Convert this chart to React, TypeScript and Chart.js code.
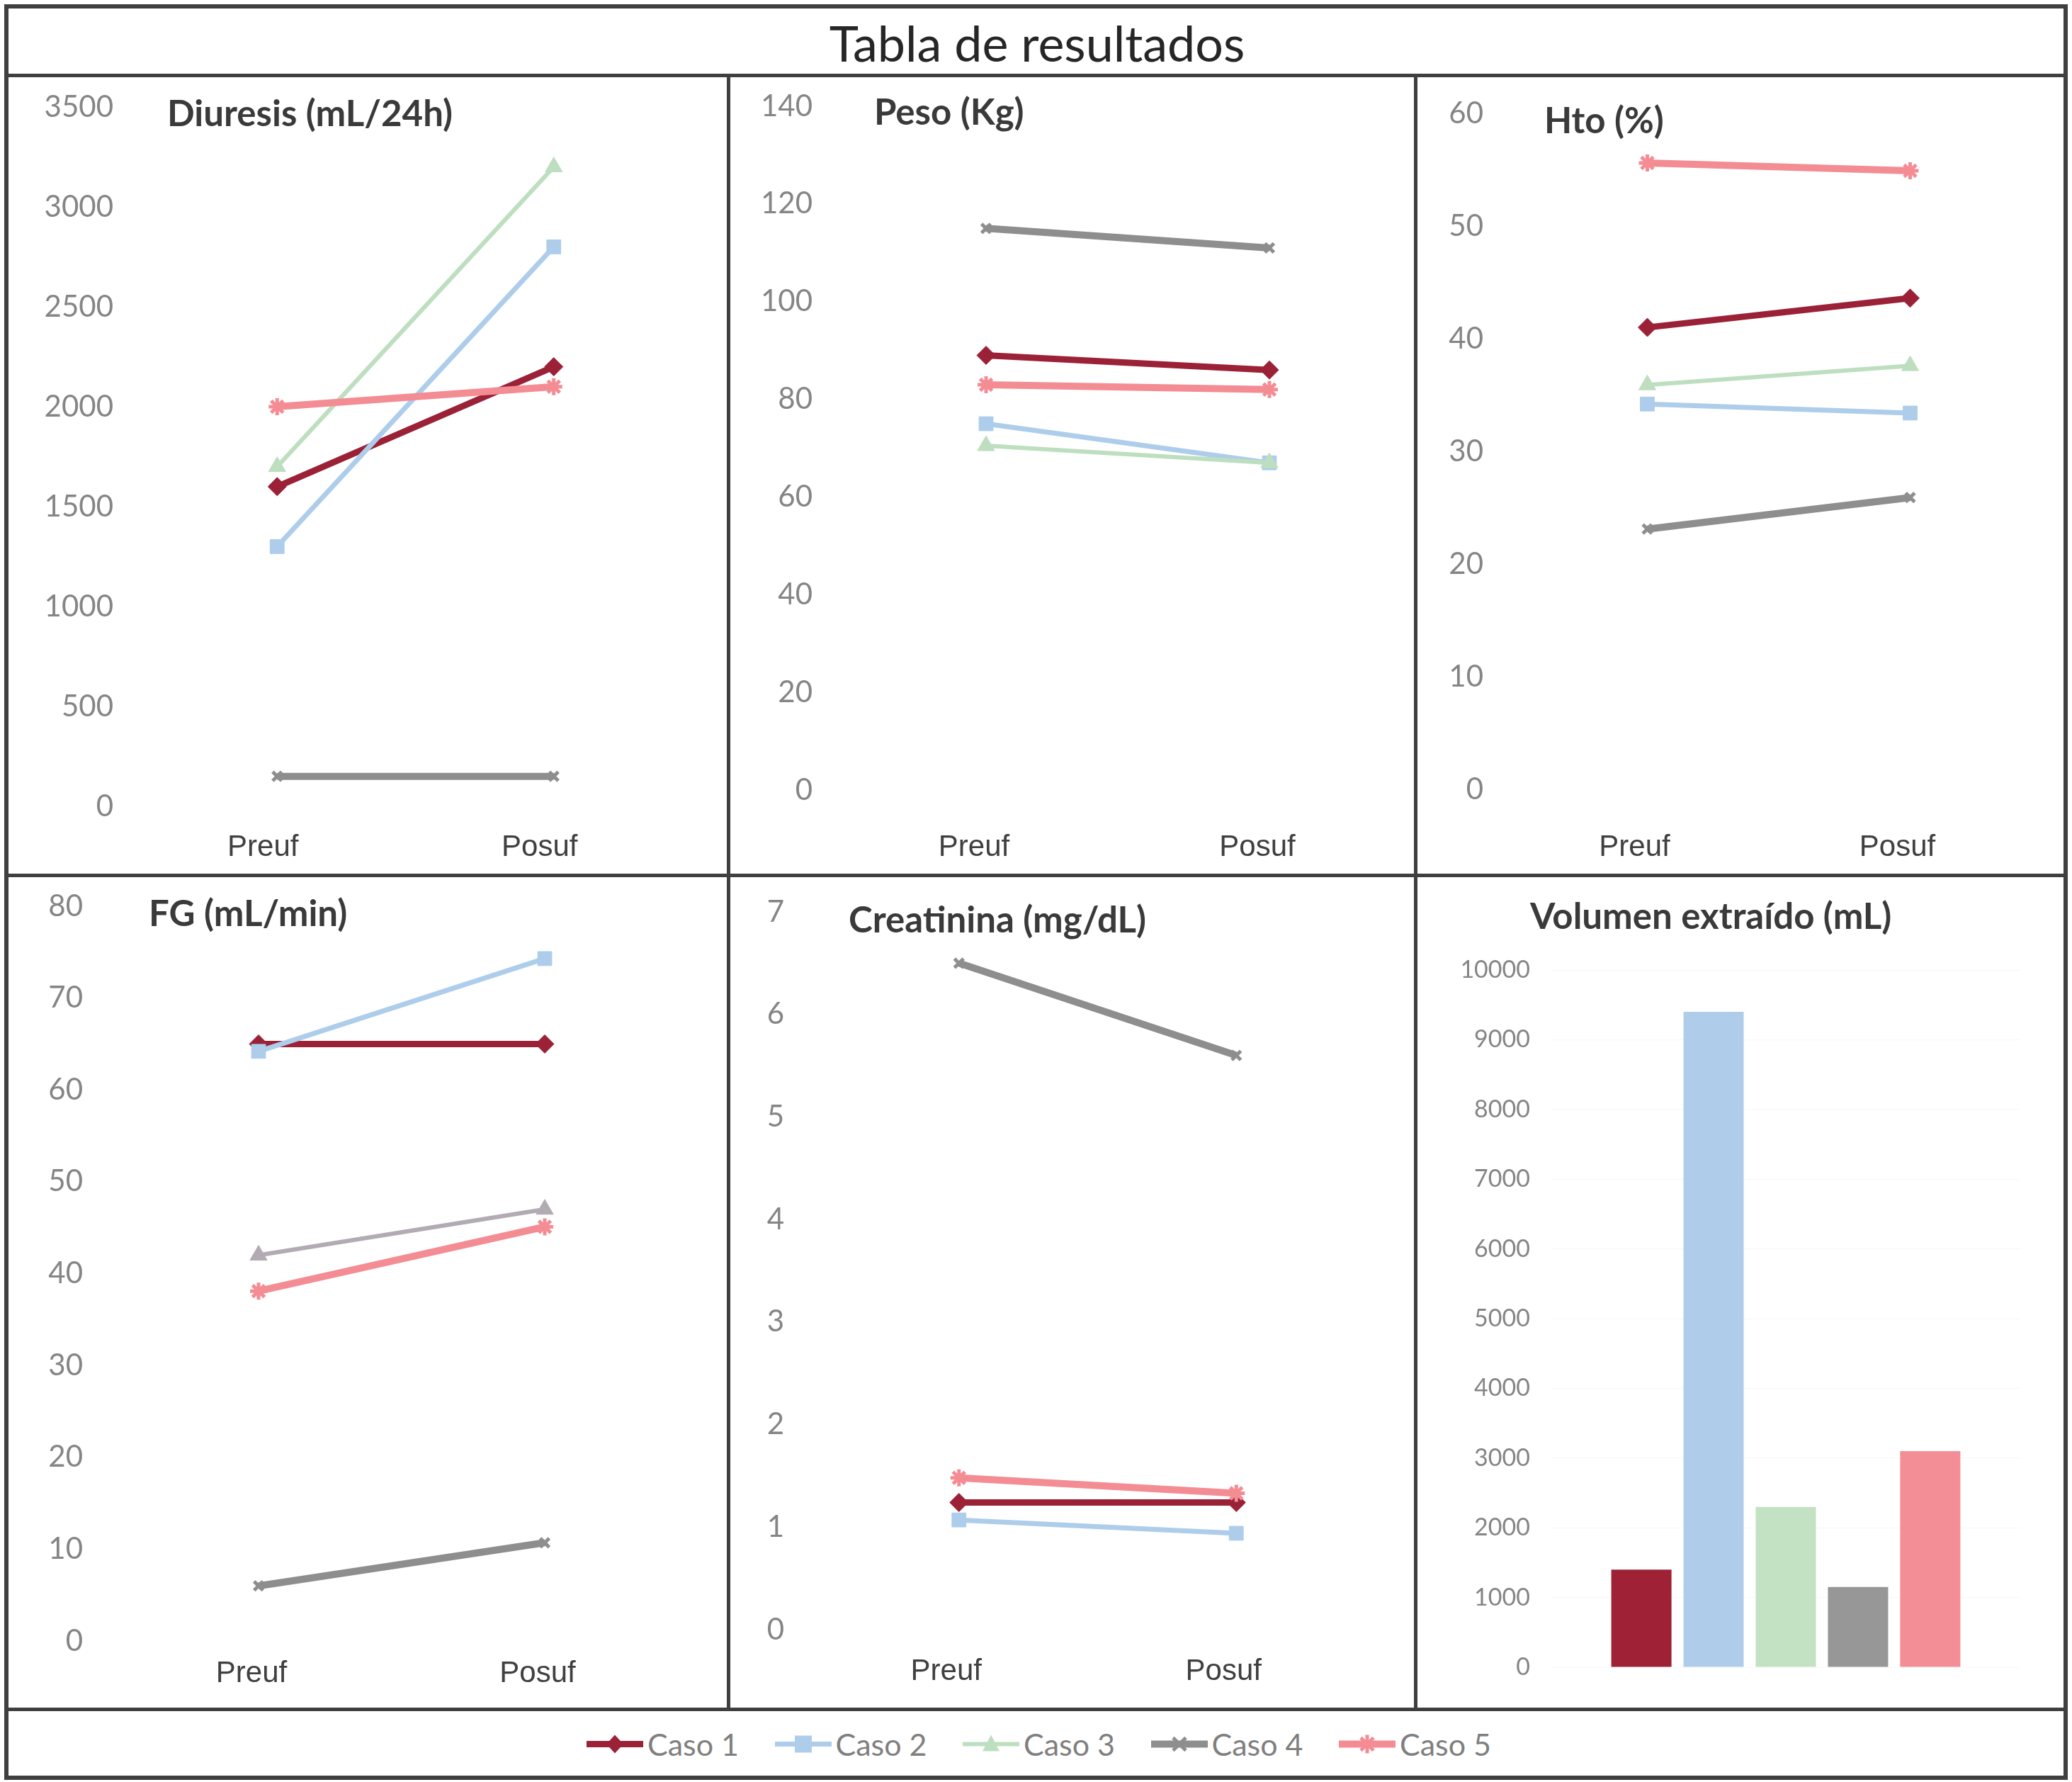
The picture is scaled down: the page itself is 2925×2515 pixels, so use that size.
import React, { useEffect, useRef } from 'react';
import { Chart, registerables } from 'chart.js';

Chart.register(...registerables);

// ---------------- data ----------------
const CATEGORIES = ['Preuf', 'Posuf'];
const CASES = ['Caso 1', 'Caso 2', 'Caso 3', 'Caso 4', 'Caso 5'];

// one [Preuf, Posuf] pair per case
const DIURESIS = [[1600, 2200], [1300, 2800], [1700, 3200], [150, 150], [2000, 2100]];
const PESO = [[89, 86], [75, 67], [70.5, 67], [115, 111], [83, 82]];
const HTO = [[41, 43.6], [34.2, 33.4], [35.9, 37.6], [23.1, 25.9], [55.6, 54.9]];
const FG = [[65, 65], [64.2, 74.3], [42, 47], [6, 10.7], [38.1, 45.1]];
const CREATININA = [[1.24, 1.24], [1.07, 0.94], [null, null], [6.5, 5.6], [1.48, 1.33]];
const VOLUMEN = [1400, 9400, 2300, 1150, 3100];

const DIURESIS_AXIS = [0, 3500, 500];
const PESO_AXIS = [0, 140, 20];
const HTO_AXIS = [0, 60, 10];
const FG_AXIS = [0, 80, 10];
const CREATININA_AXIS = [0, 7, 1];
const VOLUMEN_AXIS = [0, 10000, 1000];

// ---------------- styles ----------------
const LINE_COLORS = ['#9B2137', '#ADCDEB', '#BEDFBF', '#8E8E8E', '#F48C94'];
const BAR_COLORS = ['#9E2136', '#AFCDEB', '#C3E2C4', '#979797', '#F48E96'];
const LINE_WIDTHS = [9, 7, 6, 10, 10];
const POINT_STYLES = ['rectRot', 'rect', 'triangle', 'crossRot', 'star'];
const POINT_RADII = [13, 14, 14, 9, 12];

const TICK_COLOR = '#858585';
const LABEL_COLOR = '#404040';
const TITLE_COLOR = '#3A3A3A';
const BORDER_COLOR = '#3F3F3F';

type PanelCfg = {
  title: string;
  values: (number | null)[][];
  axis: number[];
  box: number[]; // x, y, w, h of canvas on page
  area: { left: number; top: number; right: number; bottom: number }; // chart area inside canvas
  yPad: number;
  xPad: number;
  labelOffset: number;
  titlePos: number[];
  colors?: string[];
};

const LINE_PANELS: PanelCfg[] = [
  {
    title: 'Diuresis (mL/24h)', values: DIURESIS, axis: DIURESIS_AXIS,
    box: [9, 106, 1019, 1129], area: { left: 187, top: 45, right: 968, bottom: 1032 },
    yPad: 36, xPad: 33, labelOffset: -20, titlePos: [236, 158],
  },
  {
    title: 'Peso (Kg)', values: PESO, axis: PESO_AXIS,
    box: [1028, 106, 970, 1129], area: { left: 164, top: 44, right: 964, bottom: 1009 },
    yPad: 45, xPad: 56, labelOffset: -17, titlePos: [1234, 156],
  },
  {
    title: 'Hto (%)', values: HTO, axis: HTO_AXIS,
    box: [1998, 106, 918, 1129], area: { left: 142, top: 54, right: 884, bottom: 1008 },
    yPad: 46, xPad: 57, labelOffset: -18, titlePos: [2180, 168],
  },
  {
    title: 'FG (mL/min)', values: FG, axis: FG_AXIS,
    box: [9, 1235, 1019, 1177], area: { left: 154, top: 44, right: 962, bottom: 1081 },
    yPad: 46, xPad: 21, labelOffset: -10, titlePos: [210, 1287],
    colors: ['#9B2137', '#ADCDEB', '#B3ABB3', '#8E8E8E', '#F48C94'],
  },
  {
    title: 'Creatinina (mg/dL)', values: CREATININA, axis: CREATININA_AXIS,
    box: [1028, 1235, 970, 1177], area: { left: 130, top: 52, right: 913, bottom: 1065 },
    yPad: 51, xPad: 34, labelOffset: -18, titlePos: [1198, 1296],
  },
];

const BAR_PANEL = {
  title: 'Volumen extraído (mL)',
  box: [1998, 1235, 918, 1177],
  area: { left: 192, top: 134, right: 854, bottom: 1118 },
  yPad: 30,
  titlePos: [2160, 1291],
};

// remove the extra padding Chart.js reserves for edge tick labels,
// so the plot area is exactly the one requested
function fixWidth(width: number) {
  return (s: any) => {
    s.width = width;
    s.paddingTop = 0;
    s.paddingBottom = 0;
  };
}
function fixHeight(height: number) {
  return (s: any) => {
    s.height = height;
    s.paddingLeft = 0;
    s.paddingRight = 0;
  };
}

function buildLine(p: PanelCfg): any {
  const [w, h] = [p.box[2], p.box[3]];
  const colors = p.colors ?? LINE_COLORS;
  return {
    type: 'line',
    data: {
      labels: CATEGORIES,
      datasets: p.values.map((vals, i) => ({
        label: CASES[i],
        data: vals,
        order: CASES.length - i,
        borderColor: colors[i],
        backgroundColor: colors[i],
        pointBackgroundColor: colors[i],
        pointBorderColor: colors[i],
        borderWidth: LINE_WIDTHS[i],
        pointBorderWidth: i >= 3 ? 5 : 1,
        pointStyle: POINT_STYLES[i],
        pointRadius: POINT_RADII[i],
        tension: 0,
        fill: false,
        clip: false,
      })),
    },
    options: {
      animation: false,
      responsive: false,
      devicePixelRatio: 1,
      layout: { autoPadding: false, padding: { left: 0, top: p.area.top, right: w - p.area.right, bottom: 0 } },
      plugins: { legend: { display: false }, tooltip: { enabled: false }, title: { display: false } },
      scales: {
        x: {
          type: 'category',
          offset: true,
          grid: { display: false, drawTicks: false },
          border: { display: false },
          ticks: {
            color: LABEL_COLOR,
            font: { family: '"Liberation Sans", Arial, sans-serif', size: 42 },
            padding: p.xPad,
            labelOffset: p.labelOffset,
            maxRotation: 0,
            autoSkip: false,
          },
          afterFit: fixHeight(h - p.area.bottom),
        },
        y: {
          min: p.axis[0],
          max: p.axis[1],
          grid: { display: false, drawTicks: false },
          border: { display: false },
          ticks: {
            stepSize: p.axis[2],
            color: TICK_COLOR,
            font: { family: 'Lato, sans-serif', size: 42 },
            padding: p.yPad,
            callback: (v: any) => String(v),
          },
          afterFit: fixWidth(p.area.left),
        },
      },
    },
  };
}

function buildBar(): any {
  const p = BAR_PANEL;
  const [w, h] = [p.box[2], p.box[3]];
  return {
    type: 'bar',
    data: {
      labels: [''],
      datasets: VOLUMEN.map((v, i) => ({
        label: CASES[i],
        data: [v],
        backgroundColor: BAR_COLORS[i],
        borderWidth: 0,
        barPercentage: 0.834,
        categoryPercentage: 0.77,
      })),
    },
    options: {
      animation: false,
      responsive: false,
      devicePixelRatio: 1,
      layout: { autoPadding: false, padding: { left: 0, top: p.area.top, right: w - p.area.right, bottom: 0 } },
      plugins: { legend: { display: false }, tooltip: { enabled: false }, title: { display: false } },
      scales: {
        x: {
          grid: { display: false, drawTicks: false },
          border: { display: false },
          ticks: { display: false },
          afterFit: fixHeight(h - p.area.bottom),
        },
        y: {
          min: VOLUMEN_AXIS[0],
          max: VOLUMEN_AXIS[1],
          grid: { color: 'rgba(0,0,0,0.03)', drawTicks: false },
          border: { display: false },
          ticks: {
            stepSize: VOLUMEN_AXIS[2],
            color: TICK_COLOR,
            font: { family: 'Lato, sans-serif', size: 34 },
            padding: p.yPad,
            callback: (v: any) => String(v),
          },
          afterFit: fixWidth(p.area.left),
        },
      },
    },
  };
}

function ChartCanvas({ box, build }: { box: number[]; build: () => any }) {
  const ref = useRef<HTMLCanvasElement>(null);
  useEffect(() => {
    const chart = new Chart(ref.current as HTMLCanvasElement, build());
    return () => chart.destroy();
  }, []);
  const [x, y, w, h] = box;
  return (
    <canvas
      ref={ref}
      width={w}
      height={h}
      style={{ position: 'absolute', left: x, top: y, width: w, height: h, display: 'block' }}
    />
  );
}

function PanelTitle({ text, pos }: { text: string; pos: number[] }) {
  return (
    <div
      style={{
        position: 'absolute', left: pos[0], top: pos[1], transform: 'translateY(-50%)',
        fontFamily: 'Lato, sans-serif', fontWeight: 700, fontSize: 51, lineHeight: 1,
        color: TITLE_COLOR, whiteSpace: 'nowrap',
      }}
    >
      {text}
    </div>
  );
}

function Line({ x1, y1, x2, y2, t }: { x1: number; y1: number; x2: number; y2: number; t: number }) {
  const horiz = y1 === y2;
  return (
    <div
      style={{
        position: 'absolute',
        left: x1 - t / 2,
        top: y1 - t / 2,
        width: horiz ? x2 - x1 + t : t,
        height: horiz ? t : y2 - y1 + t,
        background: BORDER_COLOR,
        zIndex: 5,
      }}
    />
  );
}

function LegendMarker({ i }: { i: number }) {
  const c = LINE_COLORS[i];
  const cx = 40, cy = 20;
  let marker: React.ReactNode = null;
  if (POINT_STYLES[i] === 'rectRot') {
    marker = <polygon points={`${cx},${cy - 13} ${cx + 12},${cy} ${cx},${cy + 13} ${cx - 12},${cy}`} fill={c} />;
  } else if (POINT_STYLES[i] === 'rect') {
    marker = <rect x={cx - 12} y={cy - 12} width={24} height={24} fill={c} />;
  } else if (POINT_STYLES[i] === 'triangle') {
    marker = <polygon points={`${cx},${cy - 13} ${cx + 12},${cy + 10} ${cx - 12},${cy + 10}`} fill={c} />;
  } else if (POINT_STYLES[i] === 'crossRot') {
    marker = (
      <g stroke={c} strokeWidth={5}>
        <line x1={cx - 9} y1={cy - 9} x2={cx + 9} y2={cy + 9} />
        <line x1={cx - 9} y1={cy + 9} x2={cx + 9} y2={cy - 9} />
      </g>
    );
  } else {
    marker = (
      <g stroke={c} strokeWidth={5}>
        <line x1={cx - 9} y1={cy - 9} x2={cx + 9} y2={cy + 9} />
        <line x1={cx - 9} y1={cy + 9} x2={cx + 9} y2={cy - 9} />
        <line x1={cx} y1={cy - 13} x2={cx} y2={cy + 13} />
      </g>
    );
  }
  return (
    <svg width={80} height={40} style={{ display: 'block' }}>
      <line x1={0} y1={cy} x2={80} y2={cy} stroke={c} strokeWidth={LINE_WIDTHS[i]} />
      {marker}
    </svg>
  );
}

export default function App() {
  const legendLeft = 828;
  const legendStep = 265.5;
  const legendCy = 2461;
  return (
    <div
      style={{
        position: 'absolute', left: 0, top: 0, width: 2925, height: 2515,
        background: '#ffffff', overflow: 'hidden',
      }}
    >
      {/* header */}
      <div
        style={{
          position: 'absolute', left: 1464, top: 60, transform: 'translate(-50%, -50%)',
          fontFamily: 'Lato, sans-serif', fontSize: 70, lineHeight: 1, color: '#262626',
          whiteSpace: 'nowrap',
        }}
      >
        Tabla de resultados
      </div>

      {LINE_PANELS.map((p) => (
        <ChartCanvas key={p.title} box={p.box} build={() => buildLine(p)} />
      ))}
      <ChartCanvas box={BAR_PANEL.box} build={buildBar} />

      {LINE_PANELS.map((p) => (
        <PanelTitle key={p.title + 't'} text={p.title} pos={p.titlePos} />
      ))}
      <PanelTitle text={BAR_PANEL.title} pos={BAR_PANEL.titlePos} />

      {/* legend */}
      {CASES.map((name, i) => (
        <div
          key={name}
          style={{
            position: 'absolute', left: legendLeft + i * legendStep, top: legendCy,
            transform: 'translateY(-50%)', display: 'flex', alignItems: 'center', gap: 6,
          }}
        >
          <LegendMarker i={i} />
          <span
            style={{
              fontFamily: 'Lato, sans-serif', fontSize: 43, lineHeight: 1, color: '#7F7F7F',
              whiteSpace: 'nowrap',
            }}
          >
            {name}
          </span>
        </div>
      ))}

      {/* frame lines */}
      <Line x1={9} y1={9} x2={2916} y2={9} t={6} />
      <Line x1={9} y1={2509} x2={2916} y2={2509} t={6} />
      <Line x1={9} y1={9} x2={9} y2={2509} t={6} />
      <Line x1={2916} y1={9} x2={2916} y2={2509} t={6} />
      <Line x1={9} y1={106} x2={2916} y2={106} t={5} />
      <Line x1={9} y1={1235} x2={2916} y2={1235} t={5} />
      <Line x1={9} y1={2412} x2={2916} y2={2412} t={5} />
      <Line x1={1028} y1={106} x2={1028} y2={2412} t={5} />
      <Line x1={1998} y1={106} x2={1998} y2={2412} t={5} />
    </div>
  );
}
